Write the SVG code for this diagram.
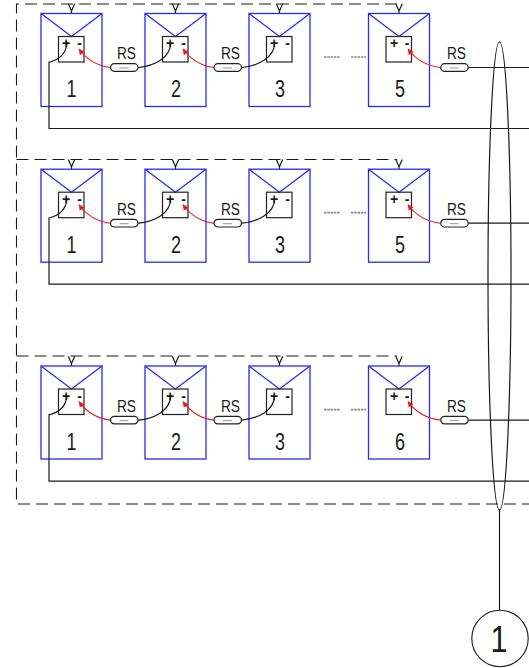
<svg xmlns="http://www.w3.org/2000/svg" width="529" height="668" viewBox="0 0 529 668">
<style>
text{font-family:"Liberation Sans",Arial,sans-serif;fill:#1a1a1a}
.num{font-size:23px;text-anchor:middle}
.rs{font-size:16px;text-anchor:middle}
.sign{font-size:14px;font-weight:bold;text-anchor:middle}
.blue{fill:none;stroke:#2a2aee;stroke-width:1.3}
.blk{fill:none;stroke:#1a1a1a;stroke-width:1.2}
.box{fill:none;stroke:#222;stroke-width:1.2}
.dash{fill:none;stroke:#1a1a1a;stroke-width:1.1;stroke-dasharray:12 6}
.red{fill:none;stroke:#f01818;stroke-width:1.1;marker-end:url(#ra)}
.gray{fill:none;stroke:#888;stroke-width:1.7;stroke-dasharray:2.5 .8}
</style>
<defs>
<marker id="ra" markerUnits="userSpaceOnUse" markerWidth="7" markerHeight="7" refX="5.5" refY="3" orient="auto"><path d="M0 0L6 3L0 6Z" fill="#f01818"/></marker>
<g id="panel">
<path class="blk" d="M27.3-9.8L30.5-2.5L33.7-9.8M30.5-2.5V0"/>
<rect class="blue" width="61" height="93"/>
<path class="blue" d="M0 0L30.5 23L61 0"/>
<rect class="box" x="17.5" y="23" width="25.5" height="25.5"/>
</g>
<g id="fuse">
<rect x="0" y="-3.8" width="27.5" height="7.6" rx="3.8" fill="#fff" stroke="#222" stroke-width="1.2"/>
<path d="M9 0.5H18" stroke="#999" stroke-width="1"/>
</g>
</defs>

<g id="frame">
<path class="dash" d="M397 4H16.5V504H529"/>
<path class="dash" d="M16.5 159.5H397"/>
<path class="dash" d="M16.5 356H397"/>
</g>

<g id="r1p1"><use href="#panel" x="41" y="13.5"/><text class="sign" x="66" y="48">+</text><text class="sign" x="79.5" y="48">-</text><text class="num" x="71.5" y="97" textLength="10" lengthAdjust="spacingAndGlyphs">1</text></g>
<g id="r1p2"><use href="#panel" x="145" y="13.5"/><text class="sign" x="170" y="48">+</text><text class="sign" x="183.5" y="48">-</text><text class="num" x="176" y="97" textLength="10" lengthAdjust="spacingAndGlyphs">2</text></g>
<g id="r1p3"><use href="#panel" x="249" y="13.5"/><text class="sign" x="274" y="48">+</text><text class="sign" x="287.5" y="48">-</text><text class="num" x="280" y="97" textLength="10" lengthAdjust="spacingAndGlyphs">3</text></g>
<g id="r1p5"><use href="#panel" x="368.5" y="13.5"/><text class="sign" x="394" y="48">+</text><text class="sign" x="407" y="48">-</text><text class="num" x="400" y="97" textLength="10" lengthAdjust="spacingAndGlyphs">5</text></g>

<g id="r2p1"><use href="#panel" x="41" y="169.2"/><text class="sign" x="66" y="203.7">+</text><text class="sign" x="79.5" y="203.7">-</text><text class="num" x="71.5" y="252.7" textLength="10" lengthAdjust="spacingAndGlyphs">1</text></g>
<g id="r2p2"><use href="#panel" x="145" y="169.2"/><text class="sign" x="170" y="203.7">+</text><text class="sign" x="183.5" y="203.7">-</text><text class="num" x="176" y="252.7" textLength="10" lengthAdjust="spacingAndGlyphs">2</text></g>
<g id="r2p3"><use href="#panel" x="249" y="169.2"/><text class="sign" x="274" y="203.7">+</text><text class="sign" x="287.5" y="203.7">-</text><text class="num" x="280" y="252.7" textLength="10" lengthAdjust="spacingAndGlyphs">3</text></g>
<g id="r2p5"><use href="#panel" x="368.5" y="169.2"/><text class="sign" x="394" y="203.7">+</text><text class="sign" x="407" y="203.7">-</text><text class="num" x="400" y="252.7" textLength="10" lengthAdjust="spacingAndGlyphs">5</text></g>

<g id="r3p1"><use href="#panel" x="41" y="366"/><text class="sign" x="66" y="400.5">+</text><text class="sign" x="79.5" y="400.5">-</text><text class="num" x="71.5" y="449.5" textLength="10" lengthAdjust="spacingAndGlyphs">1</text></g>
<g id="r3p2"><use href="#panel" x="145" y="366"/><text class="sign" x="170" y="400.5">+</text><text class="sign" x="183.5" y="400.5">-</text><text class="num" x="176" y="449.5" textLength="10" lengthAdjust="spacingAndGlyphs">2</text></g>
<g id="r3p3"><use href="#panel" x="249" y="366"/><text class="sign" x="274" y="400.5">+</text><text class="sign" x="287.5" y="400.5">-</text><text class="num" x="280" y="449.5" textLength="10" lengthAdjust="spacingAndGlyphs">3</text></g>
<g id="r3p6"><use href="#panel" x="368.5" y="366"/><text class="sign" x="394" y="400.5">+</text><text class="sign" x="407" y="400.5">-</text><text class="num" x="400" y="449.5" textLength="10" lengthAdjust="spacingAndGlyphs">6</text></g>

<g id="connectors">
<g id="row1-wires">
<path class="blk" d="M67 43C66 55 58 60 49 62.3V128.5H529"/>
<path class="blk" d="M138 67.5C155 66 170 58 170.8 43"/>
<path class="blk" d="M241.5 67.5C258 66 274 58 274.8 43"/>
<path class="blk" d="M468.5 67.5H529"/>
<path class="red" d="M110.5 67.5C98 66 87 60 79 49"/>
<path class="red" d="M214 67.5C202 66 191 60 183 49"/>
<path class="red" d="M440.7 67.5C428 66 416 60 408 49"/>
</g>
<g id="row2-wires" transform="translate(0 155.7)">
<path class="blk" d="M67 43C66 55 58 60 49 62.3V128.5H529"/>
<path class="blk" d="M138 67.5C155 66 170 58 170.8 43"/>
<path class="blk" d="M241.5 67.5C258 66 274 58 274.8 43"/>
<path class="blk" d="M468.5 67.5H529"/>
<path class="red" d="M110.5 67.5C98 66 87 60 79 49"/>
<path class="red" d="M214 67.5C202 66 191 60 183 49"/>
<path class="red" d="M440.7 67.5C428 66 416 60 408 49"/>
</g>
<g id="row3-wires" transform="translate(0 352.6)">
<path class="blk" d="M67 43C66 55 58 60 49 62.3V128.5H529"/>
<path class="blk" d="M138 67.5C155 66 170 58 170.8 43"/>
<path class="blk" d="M241.5 67.5C258 66 274 58 274.8 43"/>
<path class="blk" d="M468.5 67.5H529"/>
<path class="red" d="M110.5 67.5C98 66 87 60 79 49"/>
<path class="red" d="M214 67.5C202 66 191 60 183 49"/>
<path class="red" d="M440.7 67.5C428 66 416 60 408 49"/>
</g>
<path id="bus-leader" class="blk" d="M499.5 510V610"/>
</g>

<g id="r1-fuses">
<use href="#fuse" x="110.5" y="67.5"/><use href="#fuse" x="214" y="67.5"/><use href="#fuse" x="440.7" y="67.5"/>
<text class="rs" x="126.5" y="59" textLength="19" lengthAdjust="spacingAndGlyphs">RS</text><text class="rs" x="230.5" y="59" textLength="19" lengthAdjust="spacingAndGlyphs">RS</text><text class="rs" x="456.5" y="59" textLength="19" lengthAdjust="spacingAndGlyphs">RS</text>
</g>
<g id="r2-fuses">
<use href="#fuse" x="110.5" y="223.2"/><use href="#fuse" x="214" y="223.2"/><use href="#fuse" x="440.7" y="223.2"/>
<text class="rs" x="126.5" y="214.7" textLength="19" lengthAdjust="spacingAndGlyphs">RS</text><text class="rs" x="230.5" y="214.7" textLength="19" lengthAdjust="spacingAndGlyphs">RS</text><text class="rs" x="456.5" y="214.7" textLength="19" lengthAdjust="spacingAndGlyphs">RS</text>
</g>
<g id="r3-fuses">
<use href="#fuse" x="110.5" y="420.1"/><use href="#fuse" x="214" y="420.1"/><use href="#fuse" x="440.7" y="420.1"/>
<text class="rs" x="126.5" y="411.6" textLength="19" lengthAdjust="spacingAndGlyphs">RS</text><text class="rs" x="230.5" y="411.6" textLength="19" lengthAdjust="spacingAndGlyphs">RS</text><text class="rs" x="456.5" y="411.6" textLength="19" lengthAdjust="spacingAndGlyphs">RS</text>
</g>

<g id="ellipsis">
<path class="gray" d="M324 57H340M351 57H366"/>
<path class="gray" d="M324 212.7H340M351 212.7H366"/>
<path class="gray" d="M324 409.6H340M351 409.6H366"/>
</g>

<g id="bus"><ellipse cx="499.5" cy="276" rx="11.5" ry="234" fill="none" stroke="#1a1a1a" stroke-width="1.2"/></g>
<g id="tag"><circle cx="500" cy="638.5" r="28.2" fill="#fff" stroke="#1a1a1a" stroke-width="1.1"/><text x="499" y="652" font-size="37" text-anchor="middle" textLength="17" lengthAdjust="spacingAndGlyphs">1</text></g>
</svg>
